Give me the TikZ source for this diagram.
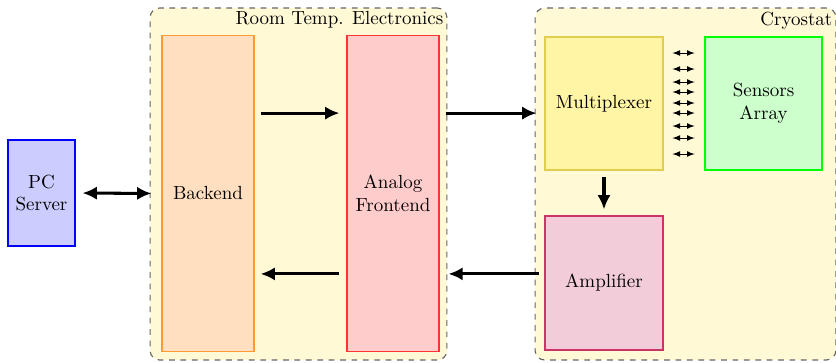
\documentclass[tikz,border=0pt]{standalone}
\usepackage{tikz}
\usetikzlibrary{arrows,arrows.meta,shapes,positioning,calc}
\definecolor{zonefill}{RGB}{255,249,214}
\definecolor{muxfill}{RGB}{255,245,165}
\definecolor{muxdraw}{RGB}{225,205,80}

\begin{document}
\begin{tikzpicture}[x=0.0185cm,y=-0.0185cm,
  zone/.style={draw=gray!80!black,semithick,dashed,rounded corners=5pt,fill=zonefill,
    minimum width=156.2pt,minimum height=185.2pt},
  block/.style={draw,semithick,align=center,inner sep=2pt},
  bigarrow/.style={line width=1.6pt,-{Latex[length=7.5pt,width=7pt]}},
  bibigarrow/.style={line width=1.6pt,{Latex[length=7.5pt,width=7pt]}-{Latex[length=7.5pt,width=7pt]}},
  wire/.style={thin,latex-latex,shorten <=4.7pt,shorten >=5.2pt}]
\useasboundingbox (0,0) rectangle (836,362);

\node[zone] (rt) at (298.5,184) {};
\node[zone,minimum width=158.3pt] (cryo) at (685.5,184) {};
\node[anchor=north east,inner sep=2pt] (rtlabel) at (rt.north east) {Room Temp. Electronics};
\node[anchor=north east,inner sep=2pt] (cryolabel) at (cryo.north east) {Cryostat};

\node[block,draw=blue,fill=blue!20,minimum width=35.2pt,minimum height=55.8pt] (pc) at (41.5,193) {PC\\Server};
\node[block,draw=orange!80,fill=orange!25,minimum width=48.4pt,minimum height=166.7pt] (back) at (208,193.5) {Backend};
\node[block,draw=red!80,fill=red!20,minimum width=48.4pt,minimum height=166.7pt] (front) at (393,193.5) {Analog\\Frontend};
\node[block,draw=muxdraw,fill=muxfill,minimum width=62.1pt,minimum height=70pt] (mux) at (604,103.5) {Multiplexer};
\node[block,draw=green,fill=green!20,minimum width=61.5pt,minimum height=70pt] (sens) at (763.5,103.5) {Sensors\\Array};
\node[block,draw=purple!80,fill=purple!20,minimum width=62.1pt,minimum height=70.5pt] (amp) at (604,283) {Amplifier};

\draw[bibigarrow,shorten <=3.7pt,shorten >=5.3pt] (pc.east) -- (back.west);
\draw[bigarrow,shorten <=3.2pt,shorten >=3.7pt] ([yshift=42.3pt]back.east) -- ([yshift=42.3pt]front.west);
\draw[bigarrow,shorten <=3.2pt,shorten >=4.2pt] ([yshift=42.3pt]front.east) -- ([yshift=42.3pt]front.east -| mux.west);
\draw[bigarrow,shorten <=3.2pt,shorten >=3.2pt] (mux.south) -- (amp.north);
\draw[bigarrow,shorten <=2.6pt,shorten >=4.7pt] ([yshift=-42.3pt]front.east -| amp.west) -- ([yshift=-42.3pt]front.east);
\draw[bigarrow,shorten <=3.7pt,shorten >=3.2pt] ([yshift=-42.3pt]front.west) -- ([yshift=-42.3pt]back.east);

\foreach \y in {53,69,82,92,103,113,126,138,154}
  \draw[wire] (mux.east |- 0,\y) -- (sens.west |- 0,\y);
\end{tikzpicture}
\end{document}
